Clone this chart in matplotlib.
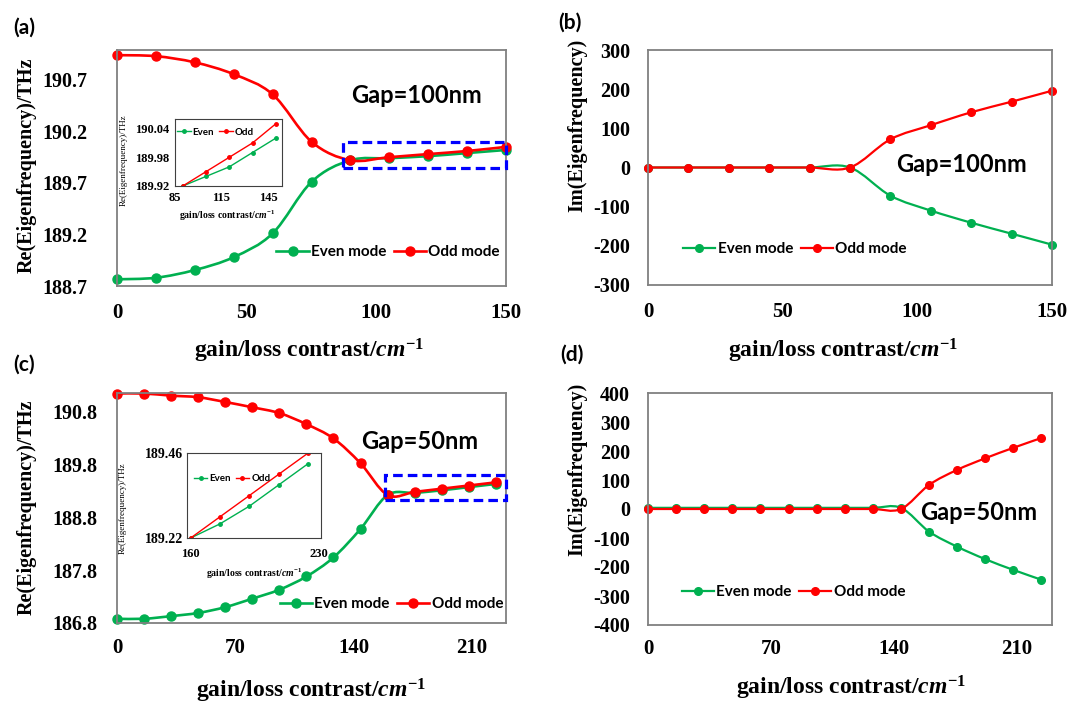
import numpy as np
import matplotlib
matplotlib.use("Agg")
import matplotlib.pyplot as plt
from matplotlib.path import Path
from matplotlib.patches import PathPatch, Rectangle
from matplotlib.lines import Line2D

plt.rcParams["font.family"] = "Liberation Serif"
plt.rcParams["font.weight"] = "bold"
plt.rcParams["axes.labelweight"] = "bold"
plt.rcParams["mathtext.fontset"] = "custom"
plt.rcParams["mathtext.it"] = "Liberation Serif:italic:bold"
plt.rcParams["mathtext.rm"] = "Liberation Serif:bold"

# ---- data: gap = 100 nm ----
x_100 = [0, 15, 30, 45, 60, 75, 90, 105, 120, 135, 150]
re_even_100 = [188.765, 188.78, 188.855, 188.98, 189.21, 189.71,
               189.92, 189.94, 189.96, 189.99, 190.02]
re_odd_100 = [190.94, 190.93, 190.87, 190.755, 190.56, 190.10,
              189.92, 189.95, 189.98, 190.01, 190.05]
im_even_100 = [0, 0, 0, 0, 0, 0, -72, -110, -141, -169, -197]
im_odd_100 = [0, 0, 0, 0, 0, 0, 72, 108, 141, 168, 196]

# ---- data: gap = 50 nm ----
x_50 = [0, 16, 32, 48, 64, 80, 96, 112, 128, 144, 160, 176, 192, 208, 224]
re_even_50 = [186.88, 186.88, 186.93, 186.99, 187.10, 187.26, 187.43, 187.68,
              188.04, 188.58, 189.22, 189.26, 189.31, 189.37, 189.43]
re_odd_50 = [191.14, 191.14, 191.10, 191.07, 190.98, 190.88, 190.77, 190.56,
             190.29, 189.82, 189.22, 189.28, 189.34, 189.40, 189.46]
im_even_50 = [4, 4, 4, 4, 4, 4, 4, 4, 4, 4, -78, -130, -173, -210, -244]
im_odd_50 = [0, 0, 0, 0, 0, 0, 0, 0, 0, 0, 83, 135, 175, 211, 245]

GREEN = "#00B050"
RED = "#FF0000"
BLUE = "#0000FF"
SANS = "Lato"
XLABEL = r"gain/loss contrast/$cm^{-1}$"

W, H = 1067, 704


def rect(left, right, top, bottom):
    return [left / W, 1 - bottom / H, (right - left) / W, (bottom - top) / H]


def smooth_path(x, y):
    # excel-like smoothed line: cubic bezier through every point
    p = np.column_stack([x, y]).astype(float)
    ext = np.vstack([p[0], p, p[-1]])
    verts = [p[0]]
    codes = [Path.MOVETO]
    for i in range(len(p) - 1):
        p0, p1, p2, p3 = ext[i], ext[i + 1], ext[i + 2], ext[i + 3]
        verts += [p1 + (p2 - p0) / 6, p2 - (p3 - p1) / 6, p2]
        codes += [Path.CURVE4] * 3
    return Path(verts, codes)


def draw_modes(ax, x, even, odd, lw, ms):
    z = 2
    for y, c in ((even, GREEN), (odd, RED)):
        ax.add_patch(PathPatch(smooth_path(x, y), fill=False, edgecolor=c,
                               lw=lw, zorder=z))
        ax.plot(x, y, "o", color=c, ms=ms, clip_on=False, zorder=z + 0.1)
        z += 0.2


def style_axes(ax, xticks, yticks, yfmt, xlim, ylim, xpad, ypad):
    ax.set_xlim(*xlim)
    ax.set_ylim(*ylim)
    ax.set_xticks(xticks)
    ax.set_yticks(yticks)
    ax.set_yticklabels([yfmt.format(v) for v in yticks])
    ax.tick_params(axis="x", length=0, labelsize=15, pad=xpad)
    ax.tick_params(axis="y", length=0, labelsize=14.5, pad=ypad)
    for s in ax.spines.values():
        s.set_color("#808080")
        s.set_linewidth(1.3)


def add_legend(ax, anchor, lw, ms):
    handles = [Line2D([], [], color=GREEN, marker="o", lw=lw, ms=ms),
               Line2D([], [], color=RED, marker="o", lw=lw, ms=ms)]
    ax.legend(handles, ["Even mode", "Odd mode"], loc="center left",
              bbox_to_anchor=anchor, ncol=2, frameon=False, borderpad=0,
              borderaxespad=0, handlelength=2.1, handletextpad=0.15,
              columnspacing=0.5, prop={"family": SANS, "weight": "bold", "size": 11})


def add_inset(pos, x, even, odd, xlim, ylim, xticks, yticks, ysize, xpad, ypad,
              ylab_xy, xlab_xy, leg_anchor):
    ia = fig.add_axes(pos)
    ia.plot(x, even, "-o", color=GREEN, lw=1.0, ms=2.5)
    ia.plot(x, odd, "-o", color=RED, lw=1.0, ms=2.5)
    ia.set_xlim(*xlim)
    ia.set_ylim(*ylim)
    ia.set_xticks(xticks)
    ia.set_yticks(yticks)
    ia.set_yticklabels(["{:.2f}".format(v) for v in yticks])
    ia.tick_params(axis="x", length=0, labelsize=9, pad=xpad)
    ia.tick_params(axis="y", length=0, labelsize=ysize, pad=ypad)
    for s in ia.spines.values():
        s.set_color("#404040")
        s.set_linewidth(0.8)
    ia.set_ylabel("Re(Eigenfrequency)/THz", fontsize=6.5, fontweight="normal")
    ia.yaxis.set_label_coords(*ylab_xy)
    ia.set_xlabel(XLABEL, fontsize=7)
    ia.xaxis.set_label_coords(*xlab_xy)
    handles = [Line2D([], [], color=GREEN, marker="o", lw=1.0, ms=2.5),
               Line2D([], [], color=RED, marker="o", lw=1.0, ms=2.5)]
    ia.legend(handles, ["Even", "Odd"], loc="center left", bbox_to_anchor=leg_anchor,
              ncol=2, frameon=False, borderpad=0, borderaxespad=0,
              handlelength=1.4, handletextpad=0.2, columnspacing=0.5,
              prop={"family": SANS, "weight": "bold", "size": 7})
    return ia


fig = plt.figure(figsize=(W / 100, H / 100), dpi=100)

# (a) real part, gap 100 nm
ax_a = fig.add_axes(rect(117, 506, 50, 286))
draw_modes(ax_a, x_100, re_even_100, re_odd_100, lw=1.9, ms=6.5)
style_axes(ax_a, [0, 50, 100, 150], [188.7, 189.2, 189.7, 190.2, 190.7], "{:.1f}",
           (0, 150), (188.7, 190.99), 12, 21)
ax_a.add_patch(Rectangle((87, 189.845), 150 - 87, 0.255, fill=False, edgecolor=BLUE,
                         lw=2.3, ls=(0, (3, 1.6)), clip_on=False, zorder=5))
ax_a.text(0.771, 0.809, "Gap=100nm", transform=ax_a.transAxes, ha="center", va="center",
          family=SANS, weight="bold", fontsize=17)
add_legend(ax_a, (0.41, 0.144), 1.9, 6.5)
ax_a.set_ylabel("Re(Eigenfrequency)/THz", fontsize=14.5)
ax_a.yaxis.set_label_coords(-0.206, 0.51)
ax_a.set_xlabel(XLABEL, fontsize=17)
ax_a.xaxis.set_label_coords(0.494, -0.216)

add_inset(rect(175, 282, 119, 186), x_100[6:], re_even_100[6:], re_odd_100[6:],
          (85, 154), (189.92, 190.06), [85, 115, 145], [189.92, 189.98, 190.04],
          9, 4, 4, (-0.44, 0.39), (0.49, -0.33), (0.02, 0.8))

# (b) imaginary part, gap 100 nm
ax_b = fig.add_axes(rect(648, 1052, 50, 285))
draw_modes(ax_b, x_100, im_even_100, im_odd_100, lw=1.6, ms=5.5)
style_axes(ax_b, [0, 50, 100, 150], list(range(-300, 301, 100)), "{:d}",
           (0, 150), (-300, 300), 12, 13)
ax_b.text(0.777, 0.511, "Gap=100nm", transform=ax_b.transAxes, ha="center", va="center",
          family=SANS, weight="bold", fontsize=17)
add_legend(ax_b, (0.087, 0.153), 1.6, 5.5)
ax_b.set_ylabel("Im(Eigenfrequency)", fontsize=14.5)
ax_b.yaxis.set_label_coords(-0.151, 0.68)
ax_b.set_xlabel(XLABEL, fontsize=17)
ax_b.xaxis.set_label_coords(0.483, -0.221)

# (c) real part, gap 50 nm
ax_c = fig.add_axes(rect(117, 506, 393, 623))
draw_modes(ax_c, x_50, re_even_50, re_odd_50, lw=1.9, ms=6.5)
style_axes(ax_c, [0, 70, 140, 210], [186.8, 187.8, 188.8, 189.8, 190.8], "{:.1f}",
           (0, 230), (186.8, 191.15), 11, 14)
ax_c.add_patch(Rectangle((158.5, 189.12), 230 - 158.5, 0.48, fill=False, edgecolor=BLUE,
                         lw=2.3, ls=(0, (3, 1.6)), clip_on=False, zorder=5))
ax_c.text(0.779, 0.787, "Gap=50nm", transform=ax_c.transAxes, ha="center", va="center",
          family=SANS, weight="bold", fontsize=17)
add_legend(ax_c, (0.419, 0.083), 1.9, 6.5)
ax_c.set_ylabel("Re(Eigenfrequency)/THz", fontsize=14.5)
ax_c.yaxis.set_label_coords(-0.206, 0.505)
ax_c.set_xlabel(XLABEL, fontsize=17)
ax_c.xaxis.set_label_coords(0.5, -0.235)

add_inset(rect(187, 321, 453, 538), x_50[10:], re_even_50[10:], re_odd_50[10:],
          (158, 231), (189.22, 189.46), [160, 230], [189.22, 189.46],
          10, 7, 3, (-0.45, 0.35), (0.5, -0.34), (0.05, 0.7))

# (d) imaginary part, gap 50 nm
ax_d = fig.add_axes(rect(648, 1052, 393, 625))
draw_modes(ax_d, x_50, im_even_50, im_odd_50, lw=1.6, ms=5.5)
style_axes(ax_d, [0, 70, 140, 210], list(range(-400, 401, 100)), "{:d}",
           (0, 230), (-400, 400), 10, 13)
ax_d.text(0.819, 0.487, "Gap=50nm", transform=ax_d.transAxes, ha="center", va="center",
          family=SANS, weight="bold", fontsize=17)
add_legend(ax_d, (0.084, 0.142), 1.6, 5.5)
ax_d.set_ylabel("Im(Eigenfrequency)", fontsize=14.5)
ax_d.yaxis.set_label_coords(-0.151, 0.67)
ax_d.set_xlabel(XLABEL, fontsize=17)
ax_d.xaxis.set_label_coords(0.503, -0.211)

for label, px, py in (("(a)", 13, 18), ("(b)", 558, 13), ("(c)", 13, 355), ("(d)", 560, 345)):
    fig.text(px / W, 1 - py / H, label, ha="left", va="top",
             family=SANS, weight="bold", fontsize=15)

fig.savefig("out.png", dpi=100)
